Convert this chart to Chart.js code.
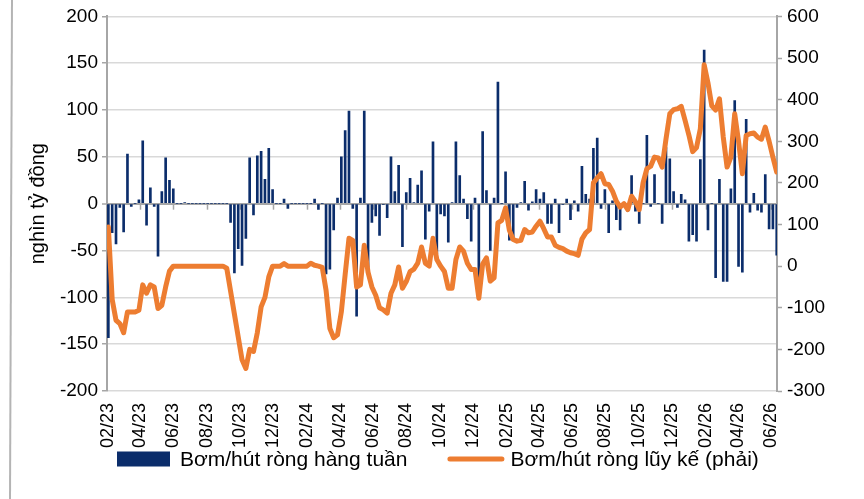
<!DOCTYPE html>
<html>
<head>
<meta charset="utf-8">
<title>Bơm/hút ròng</title>
<script src="https://cdn.jsdelivr.net/npm/chart.js@4/dist/chart.umd.min.js"></script>
<style>
  html, body { margin: 0; padding: 0; background: #fff; }
</style>
</head>
<body>
<canvas id="flowChart" width="864" height="499"></canvas>
<script>
// weekly net injection / withdrawal (nghìn tỷ đồng, left axis)
const weeklyNet = [
  -143, -31, -43, -4, -30, 53, -3, 0, 4, 67,
  -23, 17, -3, -56, 13, 49, 25, 16, 0, 0,
  1, 0, 0, 0, 0, 0, 0, 0, 0, 0,
  0, 0, -20, -74, -48, -66, -37, 49, -12, 51,
  56, 26, 59, 15, 0, 0, 5, -5, 0, 0,
  0, 0, 0, 0, 5, -6, 0, -75, -70, -28,
  6, 50, 78, 99, -5, -120, 6, 99, -68, -20,
  -13, -34, -1, -15, 50, 13, 41, -46, 12, 27,
  1, 20, 35, -38, -8, 66, -53, -11, -13, -41,
  1, 66, 30, 5, -16, -40, 6, -100, 77, 14,
  -50, 6, 130, 0, 34, -39, -36, -4, 1, 24,
  -7, 2, 15, 5, 12, -21, -21, 5, -31, -1,
  5, -17, 3, -8, 40, 10, 5, 59, 70, -5,
  15, -31, 3, -17, -28, -3, -8, 30, -8, -21,
  0, 73, -3, 31, 0, -21, 60, 48, 13, -4,
  10, 4, -40, -33, -40, 47, 164, -28, 0, -79,
  26, -83, -83, 16, 110, -67, -73, 90, -9, 11,
  -7, -9, 31, -27, -27, -55
];

// cumulative (right axis)
const cumulativeNet = [
  94, -80, -130, -138, -160, -110, -110, -110, -106, -45,
  -65, -45, -50, -102, -94, -50, -12, 0, 0, 0,
  0, 0, 0, 0, 0, 0, 0, 0, 0, 0,
  0, -5, -60, -115, -170, -225, -246, -200, -205, -160,
  -98, -75, -26, 0, 0, 0, 6, 0, 0, 0,
  0, 0, 0, 7, 2, 0, -3, -58, -150, -172,
  -165, -110, -20, 67, 62, -50, -45, 50, -15, -50,
  -70, -100, -105, -113, -65, -45, -2, -53, -37, -13,
  -7, 7, 46, 7, 0, 67, 16, 0, -13, -53,
  -53, 16, 46, 36, 7, -8, -8, -77, 5, 20,
  -36, -28, 104, 110, 140, 86, 64, 60, 62, 88,
  80, 82, 96, 108, 90, 70, 70, 50, 45, 42,
  36, 32, 30, 26, 65, 80, 88, 200, 212, 222,
  198, 196, 180, 156, 142, 150, 136, 168, 155, 136,
  200, 234, 240, 262, 260, 238, 305, 366, 376, 378,
  384, 350, 315, 275, 285, 330, 484, 440, 385, 375,
  402, 310, 238, 262, 366, 300, 222, 314, 318, 320,
  310, 305, 334, 300, 262, 226
];

const monthLabels = [
  '02/23', '04/23', '06/23', '08/23', '10/23', '12/23',
  '02/24', '04/24', '06/24', '08/24', '10/24', '12/24',
  '02/25', '04/25', '06/25', '08/25', '10/25', '12/25',
  '02/26', '04/26', '06/26'
];

const seriesNames = ['Bơm/hút ròng hàng tuần', 'Bơm/hút ròng lũy kế (phải)'];

// x axis is in days counted from 1 Feb 2023, first week falls on 2 Feb
const DAY = 86400000;
const axisOrigin = Date.UTC(2023, 1, 1);
const firstWeekDay = 1;
const weekDays = weeklyNet.map((_, i) => firstWeekDay + 7 * i);

function monthToDay(label) {
  const [mm, yy] = label.split('/').map(Number);
  return (Date.UTC(2000 + yy, mm - 1, 1) - axisOrigin) / DAY;
}

const FONT = "'Liberation Sans', Arial, sans-serif";
const GRID = '#d9d9d9';
const AXIS = '#a6a6a6';

// thin grey page edge on the far left
const pageEdge = {
  id: 'pageEdge',
  beforeDraw(chart) {
    const ctx = chart.ctx;
    ctx.save();
    ctx.strokeStyle = '#b4b4b4';
    ctx.lineWidth = 2;
    ctx.beginPath();
    ctx.moveTo(12, 0);
    ctx.lineTo(10, chart.height);
    ctx.stroke();
    ctx.restore();
  }
};

// small tick marks hanging under the zero line
const zeroLineTicks = {
  id: 'zeroLineTicks',
  beforeDatasetsDraw(chart) {
    const { ctx, scales: { x, y } } = chart;
    const y0 = y.getPixelForValue(0);
    ctx.save();
    ctx.strokeStyle = AXIS;
    ctx.lineWidth = 1.5;
    x.ticks.forEach(t => {
      const px = Math.round(x.getPixelForValue(t.value)) + 0.5;
      ctx.beginPath();
      ctx.moveTo(px, y0);
      ctx.lineTo(px, y0 + 6);
      ctx.stroke();
    });
    ctx.restore();
  }
};

// legend row under the axis labels (Excel style: box for bars, stroke for line)
const bottomLegend = {
  id: 'bottomLegend',
  afterDraw(chart) {
    const { ctx } = chart;
    const y = 459;
    let x = 117;
    ctx.save();
    ctx.font = '21px ' + FONT;
    ctx.textBaseline = 'middle';
    ctx.textAlign = 'left';
    chart.data.datasets.forEach((ds) => {
      if (ds.type === 'line') {
        ctx.strokeStyle = ds.borderColor;
        ctx.lineWidth = 5;
        ctx.lineCap = 'round';
        ctx.beginPath();
        ctx.moveTo(x + 2.5, y);
        ctx.lineTo(x + 54.5, y);
        ctx.stroke();
      } else {
        ctx.fillStyle = ds.backgroundColor;
        ctx.fillRect(x, y - 7.5, 53, 15);
      }
      ctx.fillStyle = '#000';
      ctx.fillText(ds.label, x + 63, y + 1);
      x += 63 + ctx.measureText(ds.label).width + 40;
    });
    ctx.restore();
  }
};

const ctx = document.getElementById('flowChart').getContext('2d');

const data = {
  datasets: [
    {
      type: 'bar',
      label: seriesNames[0],
      data: weeklyNet.map((v, i) => ({ x: weekDays[i], y: v })),
      backgroundColor: '#0b2d6b',
      borderWidth: 0,
      barThickness: 2,
      yAxisID: 'y',
      order: 2
    },
    {
      type: 'line',
      label: seriesNames[1],
      data: cumulativeNet.map((v, i) => ({ x: weekDays[i], y: v })),
      borderColor: '#ed7d31',
      backgroundColor: '#ed7d31',
      borderWidth: 5,
      borderJoinStyle: 'round',
      borderCapStyle: 'round',
      pointRadius: 0,
      tension: 0,
      yAxisID: 'y2',
      order: 1
    }
  ]
};

const config = {
  data: data,
  options: {
    responsive: false,
    animation: false,
    devicePixelRatio: 1,
    layout: {
      padding: { top: 16, left: 18, right: 0, bottom: 48 }
    },
    plugins: {
      tooltip: { enabled: false },
      legend: { display: false }
    },
    scales: {
      x: {
        type: 'linear',
        bounds: 'data',
        min: -1.5,
        max: weekDays[weekDays.length - 1] + 0.5,
        offset: false,
        grid: { display: false, drawTicks: false },
        border: { display: false },
        afterBuildTicks: (scale) => {
          scale.ticks = monthLabels.map(l => ({ value: monthToDay(l) }));
        },
        afterFit: (scale) => { scale.height = 60; },
        ticks: {
          autoSkip: false,
          minRotation: 90,
          maxRotation: 90,
          padding: 12,
          color: '#000',
          font: { family: FONT, size: 18 },
          callback: (value, index) => monthLabels[index]
        }
      },
      y: {
        position: 'left',
        min: -200,
        max: 200,
        afterFit: (scale) => { scale.width = 89; },
        grid: {
          color: (c) => c.tick.value === 0 ? AXIS : GRID,
          lineWidth: (c) => c.tick.value === 0 ? 2 : 1.5,
          tickColor: AXIS,
          tickLength: 5,
          tickWidth: 1.5
        },
        border: { color: AXIS, width: 2 },
        ticks: {
          stepSize: 50,
          padding: 4,
          color: '#000',
          font: { family: FONT, size: 19 }
        },
        title: {
          display: true,
          text: 'nghìn tỷ đồng',
          color: '#000',
          padding: { top: 8, bottom: 0 },
          font: { family: FONT, size: 20 }
        }
      },
      y2: {
        position: 'right',
        min: -300,
        max: 600,
        afterFit: (scale) => { scale.width = 87; },
        grid: {
          drawOnChartArea: false,
          tickColor: AXIS,
          tickLength: 5,
          tickWidth: 1.5
        },
        border: { color: AXIS, width: 2 },
        ticks: {
          stepSize: 100,
          padding: 5,
          color: '#000',
          font: { family: FONT, size: 19 }
        }
      }
    }
  },
  plugins: [pageEdge, zeroLineTicks, bottomLegend]
};

const flowChart = new Chart(ctx, config);
</script>
</body>
</html>
